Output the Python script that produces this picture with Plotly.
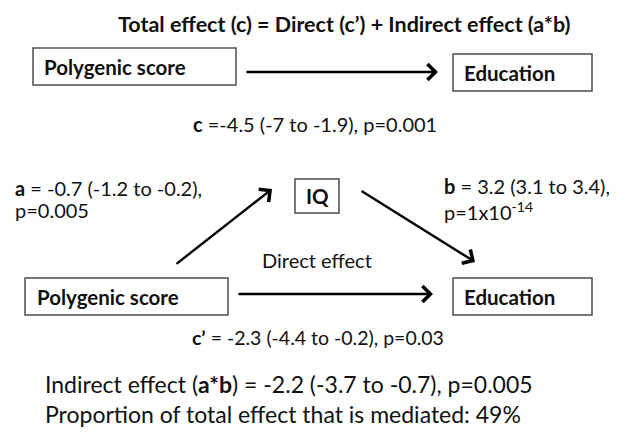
import plotly.graph_objects as go

# ---- data ----
nodes = ["Polygenic score", "IQ", "Education"]
paths = ["a", "b", "c", "c’", "a*b"]
estimates = [-0.7, 3.2, -4.5, -2.3, -2.2]
ci_low = [-1.2, 3.1, -7, -4.4, -3.7]
ci_high = [-0.2, 3.4, -1.9, -0.2, -0.7]
p_values = ["0.005", "1x10<sup>-14</sup>", "0.001", "0.03", "0.005"]
proportion_mediated = 49

W, H = 617, 438
OFF = 8  # page body margin of the html page
FONT = "Lato"
TXT = "#111111"
BOX = "#4d4d4d"

fig = go.Figure()
fig.update_layout(
    width=W, height=H, margin=dict(l=0, r=0, t=0, b=0),
    paper_bgcolor="white", plot_bgcolor="white", showlegend=False,
    xaxis=dict(range=[OFF, W + OFF], visible=False, fixedrange=True),
    yaxis=dict(range=[H + OFF, OFF], visible=False, fixedrange=True),
    font=dict(family=FONT, color=TXT, size=16),
)

def fmt(v):
    return f"{v:g}"

def txt(x, y, s, size=16, anchor="left"):
    fig.add_annotation(x=x, y=y, xref="x", yref="y", text=s, showarrow=False,
                       xanchor=anchor, yanchor="middle",
                       font=dict(family=FONT, size=size, color=TXT))

def box(x0, y0, x1, y1):
    fig.add_shape(type="rect", x0=x0, y0=y0, x1=x1, y1=y1, xref="x", yref="y",
                  line=dict(color=BOX, width=1.5), fillcolor="white")

def arrow(x0, y0, x1, y1):
    fig.add_annotation(x=x1, y=y1, ax=x0, ay=y0, xref="x", yref="y",
                       axref="x", ayref="y", text="", showarrow=True,
                       arrowhead=4, arrowsize=1.3, arrowwidth=2.4,
                       arrowcolor="#000000", standoff=0, startstandoff=0)

# title
txt(344, 24, f"<b>Total effect ({paths[2]}) = Direct ({paths[3]}) + Indirect effect ({paths[4]})</b>",
    size=21.5, anchor="center")

# top panel: total effect
box(33, 48, 236, 85)
txt(42, 67, f"<b>{nodes[0]}</b>", size=20.5)
box(453, 54, 592, 91)
txt(462, 73, f"<b>{nodes[2]}</b>", size=20.5)
arrow(245, 72, 438, 72)
txt(315, 124, f"<b>{paths[2]}</b> ={fmt(estimates[2])} ({fmt(ci_low[2])} to {fmt(ci_high[2])}), p={p_values[2]}",
    size=20, anchor="center")

# mediation panel
box(295, 179, 339, 213)
txt(317, 196, f"<b>{nodes[1]}</b>", size=20.5, anchor="center")
txt(13, 188, f"<b>{paths[0]}</b> = {fmt(estimates[0])} ({fmt(ci_low[0])} to {fmt(ci_high[0])}),", size=20)
txt(13, 210, f"p={p_values[0]}", size=20)
txt(442, 186, f"<b>{paths[1]}</b> = {fmt(estimates[1])} ({fmt(ci_low[1])} to {fmt(ci_high[1])}),", size=20)
txt(442, 211, f"p={p_values[1]}", size=20)
arrow(175, 265, 272, 189)
arrow(360, 190, 475, 262)
txt(317, 260, "Direct effect", size=20, anchor="center")

box(25, 278, 228, 315)
txt(35, 297, f"<b>{nodes[0]}</b>", size=20.5)
box(453, 278, 592, 315)
txt(462, 297, f"<b>{nodes[2]}</b>", size=20.5)
arrow(237, 294, 433, 294)
txt(318, 337, f"<b>{paths[3]}</b> = {fmt(estimates[3])} ({fmt(ci_low[3])} to {fmt(ci_high[3])}), p={p_values[3]}",
    size=19.5, anchor="center")

txt(43, 384, f"Indirect effect (<b>{paths[4]}</b>) = {fmt(estimates[4])} ({fmt(ci_low[4])} to {fmt(ci_high[4])}), p={p_values[4]}",
    size=23)
txt(43, 414, f"Proportion of total effect that is mediated: {proportion_mediated}%", size=23)

fig.write_html("out.html")
